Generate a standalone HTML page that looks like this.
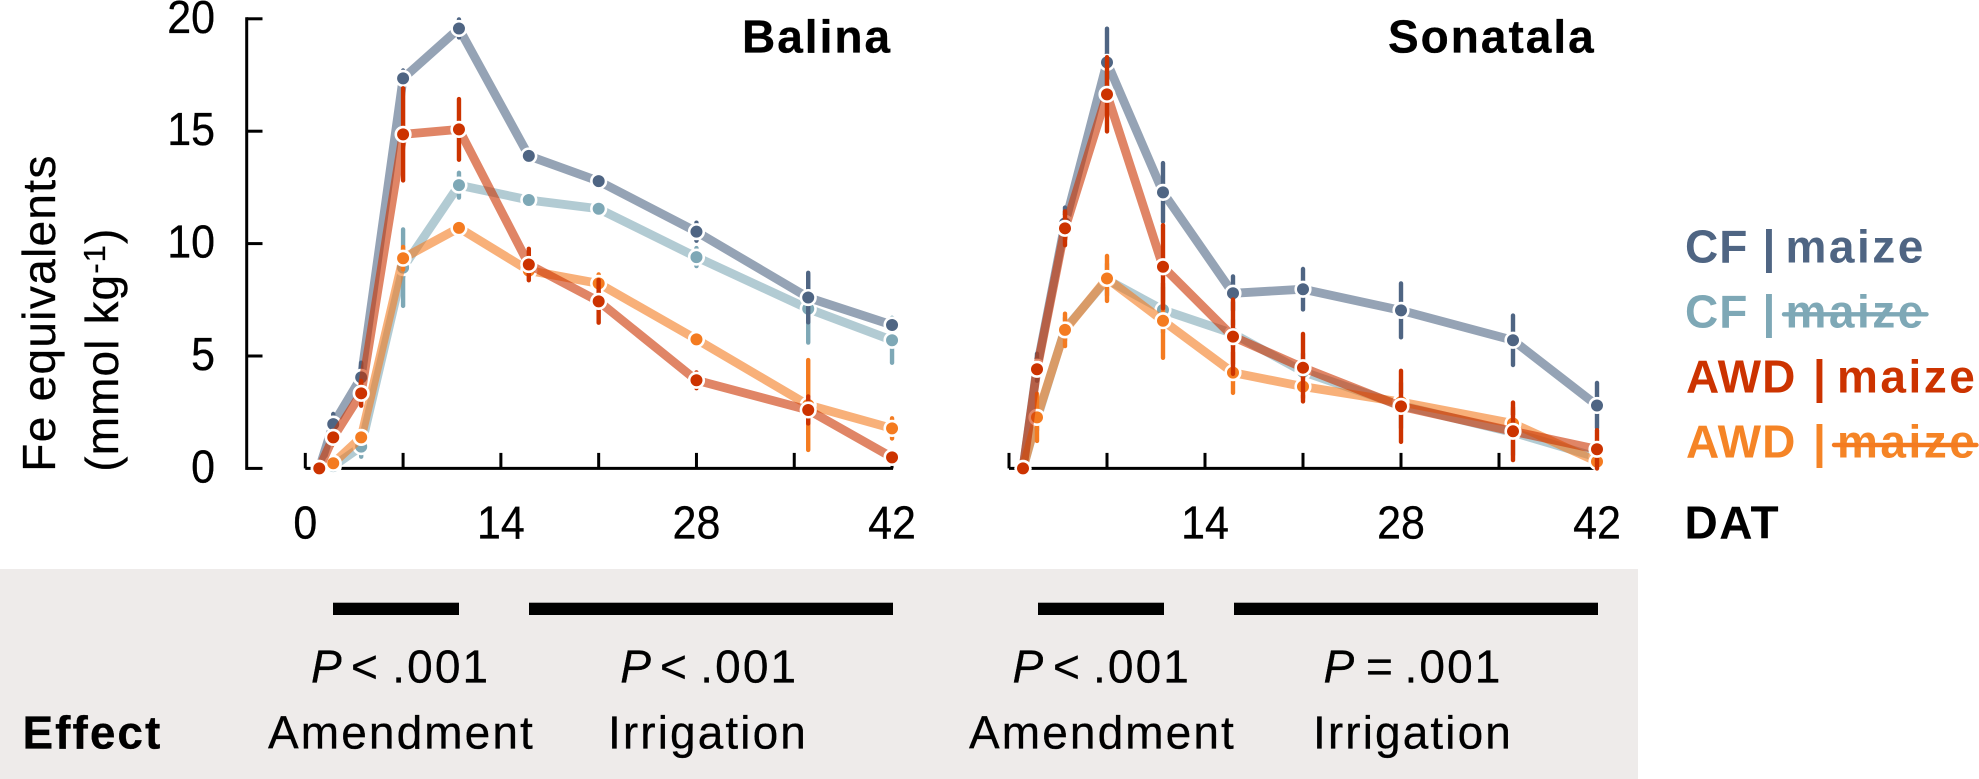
<!DOCTYPE html>
<html lang="en">
<head>
<meta charset="utf-8">
<title>Fe equivalents over time</title>
<style>
  html, body { margin: 0; padding: 0; background: #fff; }
  body { width: 1979px; height: 779px; overflow: hidden; }
  svg { display: block; }
  text { font-family: "Liberation Sans", sans-serif; font-size: 46px; fill: #000; stroke: #000; stroke-width: 0.3px; }
  .sp { letter-spacing: 2.1px; }
  .b { font-weight: 700; letter-spacing: 2px; }
  .lg { font-weight: 700; stroke: none; }
  .lg .a { letter-spacing: 1px; }
  .lg .m { letter-spacing: 2.5px; }
</style>
</head>
<body>
<svg id="chart" xmlns="http://www.w3.org/2000/svg" width="1979" height="779" viewBox="0 0 1979 779">
  <rect x="0" y="569" width="1638" height="210" fill="#eeebea"/>
  <g id="panels"></g>

  <text transform="translate(55,471.7) rotate(-90)" style="letter-spacing:1.3px">Fe equivalents</text>
  <text transform="translate(118,471.7) rotate(-90)" style="letter-spacing:1.1px">(mmol kg<tspan dy="-13" style="font-size:31px">-1</tspan><tspan dy="13">)</tspan></text>

  <text class="b" x="742" y="52.5">Balina</text>
  <text class="b" x="1388" y="52.5">Sonatala</text>

  <text class="lg" y="262.3" style="fill:#4f6583"><tspan class="a" x="1685">CF</tspan><tspan x="1762.5">|</tspan><tspan class="m" x="1785.5">maize</tspan></text>
  <text class="lg" y="327.3" style="fill:#7ea8b6"><tspan class="a" x="1685">CF</tspan><tspan x="1762.5">|</tspan><tspan class="m" x="1785.5">maize</tspan></text>
  <line x1="1784" y1="314.3" x2="1926.5" y2="314.3" stroke="#7ea8b6" stroke-width="4.4" stroke-linecap="round"/>
  <text class="lg" y="392.7" style="fill:#cc3300"><tspan class="a" x="1686">AWD</tspan><tspan x="1813">|</tspan><tspan class="m" x="1837">maize</tspan></text>
  <text class="lg" y="457.3" style="fill:#f58426"><tspan class="a" x="1686">AWD</tspan><tspan x="1813">|</tspan><tspan class="m" x="1837">maize</tspan></text>
  <line x1="1834" y1="445" x2="1976.5" y2="445" stroke="#f47b20" stroke-width="4.4" stroke-linecap="round"/>
  <text class="lg" x="1684.5" y="538.3" style="letter-spacing:1.5px">DAT</text>

  <rect x="333" y="602.7" width="126" height="12.3" fill="#000"/>
  <rect x="529" y="602.7" width="364" height="12.3" fill="#000"/>
  <rect x="1038" y="602.7" width="126" height="12.3" fill="#000"/>
  <rect x="1234" y="602.7" width="364" height="12.3" fill="#000"/>

  <text class="sp" y="682.3"><tspan x="311" font-style="italic">P</tspan><tspan x="351">&lt;</tspan><tspan x="392.3">.001</tspan></text>
  <text class="sp" y="682.3"><tspan x="620.3" font-style="italic">P</tspan><tspan x="660">&lt;</tspan><tspan x="700.3">.001</tspan></text>
  <text class="sp" y="682.3"><tspan x="1012.5" font-style="italic">P</tspan><tspan x="1053">&lt;</tspan><tspan x="1093">.001</tspan></text>
  <text class="sp" y="682.3"><tspan x="1323.5" font-style="italic">P</tspan><tspan x="1366">=</tspan><tspan x="1404.5">.001</tspan></text>

  <text class="b" x="22.5" y="748.3">Effect</text>
  <text class="sp" x="268" y="748.3">Amendment</text>
  <text class="sp" x="608" y="748.3">Irrigation</text>
  <text class="sp" x="969" y="748.3">Amendment</text>
  <text class="sp" x="1313" y="748.3">Irrigation</text>
</svg>

<script>
// Sampling days (days after transplanting)
const days = [1, 2, 4, 7, 11, 16, 21, 28, 36, 42];
const yTickValues = [0, 5, 10, 15, 20];
const xTickValues = [0, 7, 14, 21, 28, 35, 42];
const balinaXLabels = [0, 14, 28, 42];
const sonatalaXLabels = [14, 28, 42];

// Balina means
const balinaCfNone    = [0, 0.1, 0.97, 8.93, 12.6, 11.94, 11.55, 9.4, 7.1, 5.7];
const balinaCfMaize   = [0, 1.97, 4.05, 17.35, 19.57, 13.9, 12.78, 10.53, 7.6, 6.38];
const balinaAwdNone   = [0, 0.23, 1.38, 9.35, 10.7, 8.8, 8.23, 5.74, 2.82, 1.78];
const balinaAwdMaize  = [0, 1.38, 3.34, 14.86, 15.08, 9.07, 7.43, 3.92, 2.6, 0.49];
// Balina error half-widths
const balinaCfNoneErr   = [0, 0.2, 0.45, 1.7, 0.55, 0.1, 0.15, 0.4, 1.5, 1];
const balinaCfMaizeErr  = [0, 0.45, 0.65, 0.35, 0.4, 0.25, 0.25, 0.4, 1.1, 0.15];
const balinaAwdNoneErr  = [0, 0.1, 0.15, 0.5, 0.1, 0.2, 0.4, 0.1, 2, 0.45];
const balinaAwdMaizeErr = [0, 0.3, 0.55, 2.05, 1.35, 0.7, 0.95, 0.35, 0.6, 0.1];

// Sonatala means
const sonatalaCfNone    = [0, 2.2, 6.2, 8.4, 7.05, 6.0, 4.3, 2.8, 1.6, 0.5];
const sonatalaCfMaize   = [0, 4.5, 10.9, 18.06, 12.28, 7.79, 7.97, 7.03, 5.7, 2.8];
const sonatalaAwdNone   = [0, 2.27, 6.16, 8.45, 6.57, 4.26, 3.64, 2.95, 2.0, 0.3];
const sonatalaAwdMaize  = [0, 4.41, 10.68, 16.64, 8.97, 5.86, 4.48, 2.76, 1.65, 0.85];
// Sonatala error half-widths
const sonatalaCfNoneErr   = [0, 0.5, 0.5, 0.7, 1, 0.6, 0.8, 1, 1, 0.4];
const sonatalaCfMaizeErr  = [0, 0.6, 0.7, 1.5, 1.3, 0.75, 0.9, 1.2, 1.1, 1];
const sonatalaAwdNoneErr  = [0, 1.05, 0.72, 1, 1.65, 0.9, 0.5, 0.2, 0.7, 0.3];
const sonatalaAwdMaizeErr = [0, 0.3, 0.75, 1.65, 1.85, 1.65, 1.5, 1.58, 1.28, 0.85];

const seriesKeys = ['cf-no-maize', 'cf-maize', 'awd-no-maize', 'awd-maize'];
const seriesColors = ['#7ea8b6', '#4f6583', '#f47b20', '#cc3300'];

const NS = 'http://www.w3.org/2000/svg';
const root = document.getElementById('panels');

function yScale(v) { return 468.4 - v * 22.48; }

function make(tag, parent, attrs) {
  const el = document.createElementNS(NS, tag);
  for (const k in attrs) el.setAttribute(k, attrs[k]);
  parent.appendChild(el);
  return el;
}

function tickLabel(parent, x, y, anchor, str) {
  const lab = make('text', parent, { x: x, y: y, 'text-anchor': anchor, textLength: (23.9 * str.length).toFixed(1), lengthAdjust: 'spacingAndGlyphs' });
  lab.textContent = str;
  return lab;
}

function drawSeries(parent, panel, key, color, values, errs, xScale) {
  const g = make('g', parent, {});
  
  

  const pts = values.map(function (v, i) { return xScale(days[i]) + ',' + yScale(v); }).join(' ');
  const line = make('polyline', g, { points: pts, fill: 'none', stroke: color, 'stroke-opacity': 0.6, 'stroke-width': 8.8, 'stroke-linejoin': 'miter' });
  
  

  values.forEach(function (v, i) {
    if (errs[i] <= 0) return;
    const x = xScale(days[i]);
    const bar = make('line', g, { x1: x, x2: x, y1: yScale(v - errs[i]), y2: yScale(v + errs[i]), stroke: color, 'stroke-width': 4.4, 'stroke-linecap': 'round' });
    
    
  });

  values.forEach(function (v, i) {
    const dot = make('circle', g, { cx: xScale(days[i]), cy: yScale(v), r: 7.3, fill: color, stroke: '#fff', 'stroke-width': 2.6 });
    
    
  });
}

function drawXAxis(parent, panel, xScale, labels) {
  const g = make('g', parent, {});
  
  
  make('line', g, { x1: xScale(0), x2: xScale(42) + 1, y1: yScale(0), y2: yScale(0), stroke: '#000', 'stroke-width': 3 });
  xTickValues.forEach(function (t) {
    const tick = make('line', g, { x1: xScale(t), x2: xScale(t), y1: yScale(0), y2: yScale(0) - 15.5, stroke: '#000', 'stroke-width': 3 });
    
    
  });
  labels.forEach(function (t) {
    const lab = tickLabel(g, xScale(t), 538.3, 'middle', String(t));
    
    
  });
}

function drawYAxis(parent) {
  const g = make('g', parent, {});
  
  
  make('line', g, { x1: 246.7, x2: 246.7, y1: yScale(20) - 1.5, y2: yScale(0) + 1.5, stroke: '#000', 'stroke-width': 3 });
  yTickValues.forEach(function (t) {
    const tick = make('line', g, { x1: 246.7, x2: 262.5, y1: yScale(t), y2: yScale(t), stroke: '#000', 'stroke-width': 3 });
    
    
    const lab = tickLabel(g, 215, yScale(t) + 14, 'end', String(t));
    
    
  });
}

function balinaX(d) { return 305.3 + d * 13.97; }
function sonatalaX(d) { return 1009 + d * 14.0; }

drawYAxis(root);
drawXAxis(root, 'balina', balinaX, balinaXLabels);
drawXAxis(root, 'sonatala', sonatalaX, sonatalaXLabels);

[balinaCfNone, balinaCfMaize, balinaAwdNone, balinaAwdMaize].forEach(function (vals, i) {
  const errs = [balinaCfNoneErr, balinaCfMaizeErr, balinaAwdNoneErr, balinaAwdMaizeErr][i];
  drawSeries(root, 'balina', seriesKeys[i], seriesColors[i], vals, errs, balinaX);
});
[sonatalaCfNone, sonatalaCfMaize, sonatalaAwdNone, sonatalaAwdMaize].forEach(function (vals, i) {
  const errs = [sonatalaCfNoneErr, sonatalaCfMaizeErr, sonatalaAwdNoneErr, sonatalaAwdMaizeErr][i];
  drawSeries(root, 'sonatala', seriesKeys[i], seriesColors[i], vals, errs, sonatalaX);
});
</script>
</body>
</html>
